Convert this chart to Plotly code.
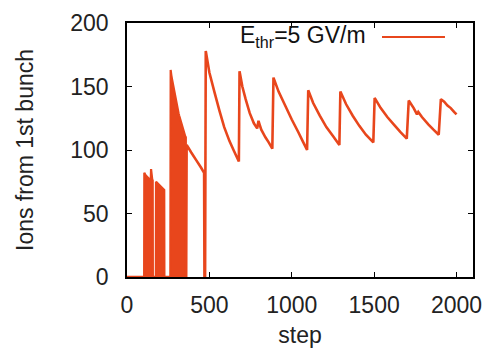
import plotly.graph_objects as go

# ---- data ----
# baseline with no ions before the continuous part
flat_steps = [0, 358]
flat_ions = [0, 0]

# dense bursts (rapid oscillation between 0 and these peak values -> solid blocks)
burst1_steps = [104, 105, 109, 113, 117, 121, 125, 129, 133, 137, 141, 144, 146, 149, 153, 156, 157]
burst1_peaks = [0, 82, 81, 80, 79.5, 79, 78, 77.5, 77, 76.5, 76, 76, 85, 80, 77, 76, 0]

burst2_steps = [175, 176, 180, 184, 188, 192, 196, 200, 204, 208, 212, 216, 220, 224, 226, 227]
burst2_peaks = [0, 75, 74.5, 74, 73.5, 73, 72.5, 72, 71.5, 71, 70.5, 70, 69.5, 69, 68.5, 0]

burst3_steps = [263, 265, 269, 273, 277, 281, 285, 289, 293, 297, 301, 305, 309,
                313, 317, 321, 325, 329, 333, 337, 341, 345, 349, 353, 357, 358]
burst3_peaks = [0, 163, 159, 156, 153, 150, 147, 144, 141, 139, 136, 134, 131,
                129, 127, 125, 123, 121, 119, 117, 115, 114, 112, 111, 110, 0]

# continuous saw-tooth part
saw_steps = [359, 362, 390, 420, 450, 468, 470, 474, 478,
             500, 530, 561, 590, 622, 650, 679,
             683, 700, 720, 745, 770, 790, 798, 805, 815, 840, 860, 882,
             889, 920, 960, 1000, 1040, 1070, 1093,
             1100, 1130, 1170, 1210, 1250, 1289,
             1295, 1330, 1370, 1410, 1450, 1495,
             1503, 1540, 1580, 1620, 1660, 1698,
             1710, 1740, 1760, 1768, 1790, 1830, 1860, 1892,
             1905, 1925, 1945, 1965, 1985, 2000]
saw_ions = [0, 104, 98, 92, 86, 82, 0, 0, 178,
            161, 146, 131, 118, 107, 99, 91,
            162, 150, 140, 129, 121, 117, 123, 120, 116, 110, 106, 101,
            157, 146, 135, 124, 114, 106, 100,
            147, 137, 127, 118, 111, 104,
            146, 136, 127, 119, 112, 106,
            141, 133, 126, 120, 114, 109,
            139, 133, 128, 130, 126, 120, 116, 112,
            140, 138, 135, 133, 130, 128]

x_ticks = [0, 500, 1000, 1500, 2000]
y_ticks = [0, 50, 100, 150, 200]
series_name = "E<sub>thr</sub>=5 GV/m"

COLOR = "#e8461c"
FONT = "Liberation Sans, Arial, sans-serif"
FS = 23

fig = go.Figure()
# dense bursts drawn as solid blocks
for bs, bp in [(burst1_steps, burst1_peaks), (burst2_steps, burst2_peaks),
               (burst3_steps, burst3_peaks)]:
    fig.add_trace(go.Scatter(x=bs, y=bp, mode="lines", fill="tozeroy",
                             fillcolor=COLOR, line=dict(color=COLOR, width=2.2),
                             showlegend=False, hoverinfo="skip"))
# main line
fig.add_trace(go.Scatter(x=flat_steps + saw_steps, y=flat_ions + saw_ions, mode="lines",
                         name=series_name,
                         line=dict(color=COLOR, width=2.6, simplify=False),
                         showlegend=False))

# gnuplot-style legend: text on the left, sample line on the right
fig.add_annotation(xref="paper", yref="paper", x=0.697, y=0.948,
                   xanchor="right", yanchor="middle", showarrow=False,
                   text=series_name, font=dict(family=FONT, size=FS, color="#111"))
fig.add_shape(type="line", xref="paper", yref="paper",
              x0=0.737, x1=0.919, y0=0.945, y1=0.945,
              line=dict(color=COLOR, width=2))

axis_common = dict(showline=True, linecolor="black", linewidth=1.5, mirror="allticks",
                   ticks="inside", ticklen=5, tickwidth=1.2, tickcolor="black",
                   showgrid=False, zeroline=False,
                   tickfont=dict(family=FONT, size=FS, color="#222"))

fig.update_xaxes(range=[0, 2100], tickvals=x_ticks, ticklabelstandoff=7,
                 title=dict(text="step", font=dict(family=FONT, size=FS, color="#222"),
                            standoff=18),
                 **axis_common)
fig.update_yaxes(range=[0, 200], tickvals=y_ticks, ticklabelstandoff=12,
                 title=dict(text="Ions from 1st bunch",
                            font=dict(family=FONT, size=FS, color="#222"), standoff=30),
                 **axis_common)

fig.update_layout(width=489, height=348,
                  margin=dict(l=127, r=16, t=23, b=71, autoexpand=False),
                  plot_bgcolor="white", paper_bgcolor="white",
                  font=dict(family=FONT))

fig.write_html("out.html")
